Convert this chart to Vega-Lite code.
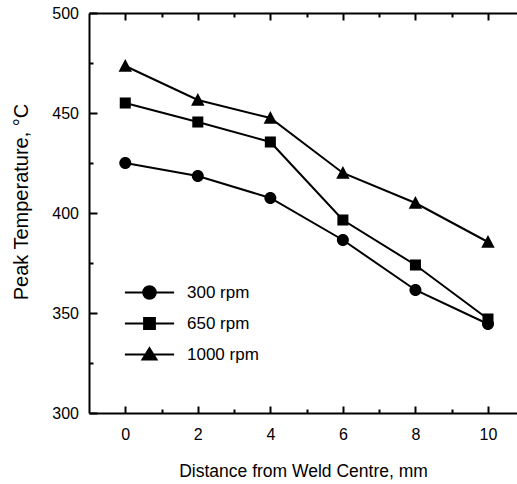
{
  "$schema": "https://vega.github.io/schema/vega-lite/v6.json",
  "autosize": "none",
  "padding": {"left": 89, "top": 13, "right": 0, "bottom": 71},
  "width": 428,
  "height": 400,
  "background": "white",
  "config": {
    "view": {"stroke": null},
    "font": "Liberation Sans",
    "axis": {
      "grid": false,
      "domainColor": "black",
      "domainWidth": 2,
      "tickColor": "black",
      "tickWidth": 2,
      "labelColor": "black",
      "labelFont": "Liberation Sans",
      "labelFontSize": 16,
      "labelFlush": false,
      "labelOverlap": false,
      "titleFont": "Liberation Sans",
      "titleColor": "black",
      "titleFontWeight": "normal"
    }
  },
  "data": {
    "values": [
      {"s": "300 rpm", "d": 0, "t": 425},
      {"s": "300 rpm", "d": 2, "t": 418.5},
      {"s": "300 rpm", "d": 4, "t": 407.5},
      {"s": "300 rpm", "d": 6, "t": 386.5},
      {"s": "300 rpm", "d": 8, "t": 361.5},
      {"s": "300 rpm", "d": 10, "t": 344.5},
      {"s": "650 rpm", "d": 0, "t": 455},
      {"s": "650 rpm", "d": 2, "t": 445.5},
      {"s": "650 rpm", "d": 4, "t": 435.5},
      {"s": "650 rpm", "d": 6, "t": 396.5},
      {"s": "650 rpm", "d": 8, "t": 374},
      {"s": "650 rpm", "d": 10, "t": 347},
      {"s": "1000 rpm", "d": 0, "t": 473.5},
      {"s": "1000 rpm", "d": 2, "t": 456.5},
      {"s": "1000 rpm", "d": 4, "t": 447.5},
      {"s": "1000 rpm", "d": 6, "t": 420},
      {"s": "1000 rpm", "d": 8, "t": 405},
      {"s": "1000 rpm", "d": 10, "t": 385.5}
    ]
  },
  "layer": [
    {
      "mark": {"type": "line", "color": "black", "strokeWidth": 2},
      "encoding": {
        "x": {
          "field": "d", "type": "quantitative",
          "scale": {"domain": [-1, 10.8], "nice": false, "zero": false},
          "axis": {
            "orient": "bottom",
            "values": [0, 2, 4, 6, 8, 10],
            "tickSize": -7,
            "labelPadding": 20,
            "title": "Distance from Weld Centre, mm",
            "titleFontSize": 17.5,
            "titleX": 214,
            "titleY": 63.5,
            "titleAlign": "center",
            "titleBaseline": "alphabetic"
          }
        },
        "y": {
          "field": "t", "type": "quantitative",
          "scale": {"domain": [300, 500], "nice": false, "zero": false},
          "axis": {
            "orient": "left",
            "values": [300, 350, 400, 450, 500],
            "tickSize": -8,
            "labelPadding": 18.5,
            "title": "Peak Temperature, °C",
            "titleFontSize": 20,
            "titleAngle": -90,
            "titleX": -62,
            "titleY": 188.5,
            "titleAlign": "center",
            "titleBaseline": "alphabetic"
          }
        },
        "detail": {"field": "s", "type": "nominal"}
      }
    },
    {
      "mark": {"type": "point", "filled": true, "color": "black", "opacity": 1, "size": 144},
      "encoding": {
        "x": {
          "field": "d", "type": "quantitative",
          "scale": {"domain": [-1, 10.8], "nice": false, "zero": false},
          "axis": {"orient": "bottom", "values": [1, 3, 5, 7, 9], "tickSize": -4, "labels": false, "domain": false, "title": null}
        },
        "y": {
          "field": "t", "type": "quantitative",
          "scale": {"domain": [300, 500], "nice": false, "zero": false},
          "axis": {"orient": "left", "values": [325, 375, 425, 475], "tickSize": -4, "labels": false, "domain": false, "title": null}
        },
        "shape": {
          "field": "s", "type": "nominal",
          "scale": {
            "domain": ["300 rpm", "650 rpm", "1000 rpm"],
            "range": [
              "M-1,0A1,1 0 1,0 1,0A1,1 0 1,0 -1,0Z",
              "M-0.92,-0.92H0.92V0.92H-0.92Z",
              "M0,-1.15L1.12,0.95H-1.12Z"
            ]
          },
          "legend": null
        }
      }
    },
    {
      "mark": {"type": "point", "filled": true, "color": "black", "stroke": "black", "strokeWidth": 2, "opacity": 1, "size": 144, "clip": true},
      "encoding": {
        "x": {
          "field": "d", "type": "quantitative",
          "scale": {"domain": [-1, 10.8], "nice": false, "zero": false},
          "axis": {"orient": "top", "values": [0, 2, 4, 6, 8, 10], "tickSize": -7, "labels": false, "domain": true, "title": null}
        },
        "y": {
          "datum": 200, "type": "quantitative",
          "scale": {"domain": [300, 500], "nice": false, "zero": false},
          "axis": null
        },
        "shape": {
          "field": "s", "type": "nominal",
          "scale": {
            "domain": ["300 rpm", "650 rpm", "1000 rpm"],
            "range": [
              "M-4.1,0H4.1M-1.05,0A1.05,1.05 0 1,0 1.05,0A1.05,1.05 0 1,0 -1.05,0Z",
              "M-4.1,0H4.1M-0.9,-0.9H0.9V0.9H-0.9Z",
              "M-4.1,0H4.1M0,-1.05L1.17,0.85H-1.17Z"
            ]
          },
          "legend": {
            "orient": "none",
            "legendX": 52,
            "legendY": 271,
            "title": null,
            "padding": 0,
            "symbolSize": 144,
            "symbolOpacity": 1,
            "symbolStrokeWidth": 2,
            "labelFont": "Liberation Sans",
            "labelFontSize": 17,
            "labelColor": "black",
            "labelOffset": 29,
            "rowPadding": 11
          }
        }
      }
    },
    {
      "mark": {"type": "point", "color": "black", "clip": true},
      "encoding": {
        "x": {
          "field": "d", "type": "quantitative",
          "scale": {"domain": [-1, 10.8], "nice": false, "zero": false},
          "axis": {"orient": "top", "values": [1, 3, 5, 7, 9], "tickSize": -4, "labels": false, "domain": false, "title": null}
        },
        "y": {
          "datum": 200, "type": "quantitative",
          "scale": {"domain": [300, 500], "nice": false, "zero": false},
          "axis": null
        }
      }
    }
  ],
  "resolve": {
    "axis": {"x": "independent", "y": "independent"},
    "scale": {"shape": "independent"}
  }
}
